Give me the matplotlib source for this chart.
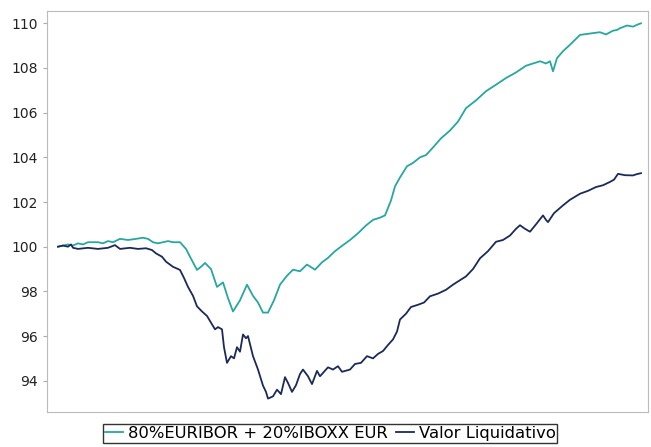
import matplotlib
matplotlib.use("Agg")
import matplotlib.pyplot as plt

# benchmark (teal) - day index, value
bench_days = [0, 5, 10, 15, 20, 25, 30, 40, 45, 50, 55, 62, 70, 78, 85, 90, 95, 100, 105, 110,
              115, 122, 128, 132, 139, 143, 147, 153, 159, 165, 170, 175, 182, 189, 195, 200,
              205, 210, 216, 222, 229, 235, 242, 249, 257, 264, 270, 277, 285, 292, 300, 308,
              315, 322, 327, 333, 337, 342, 349, 355, 362, 368, 375, 383, 392, 400, 408, 418,
              428, 438, 448, 458, 468, 475, 482, 488, 492, 495, 499, 505, 512, 522, 535, 542,
              548, 555, 559, 562, 569, 575, 580, 583]
bench_vals = [100.0, 100.05, 100.1, 100.05, 100.15, 100.1, 100.2, 100.2, 100.15, 100.25, 100.2,
              100.35, 100.3, 100.35, 100.4, 100.35, 100.2, 100.15, 100.2, 100.25, 100.2, 100.2,
              99.9, 99.55, 98.96, 99.1, 99.27, 99.0, 98.2, 98.4, 97.7, 97.1, 97.6, 98.3, 97.8,
              97.5, 97.05, 97.05, 97.6, 98.3, 98.7, 98.97, 98.9, 99.2, 98.97, 99.3, 99.5, 99.8,
              100.07, 100.3, 100.6, 100.95, 101.2, 101.3, 101.4, 102.07, 102.7, 103.1, 103.6,
              103.75, 104.0, 104.1, 104.44, 104.85, 105.2, 105.6, 106.2, 106.55, 106.96, 107.25,
              107.55, 107.8, 108.1, 108.2, 108.3, 108.2, 108.3, 107.85, 108.44, 108.75, 109.04,
              109.48, 109.56, 109.6, 109.5, 109.67, 109.7, 109.78, 109.9, 109.85, 109.95, 110.0]

# fund (navy)
fund_days = [0, 5, 10, 13, 15, 20, 30, 40, 50, 57, 62, 72, 80, 88, 94, 98, 104, 108, 115, 122,
             126, 130, 135, 139, 144, 149, 153, 157, 160, 164, 166, 169, 173, 176, 179, 182,
             185, 188, 190, 195, 200, 205, 208, 210, 215, 219, 223, 227, 230, 234, 238, 242,
             245, 250, 254, 259, 262, 266, 270, 275, 280, 284, 292, 297, 303, 309, 315, 320,
             325, 330, 335, 339, 342, 348, 353, 360, 366, 372, 380, 388, 395, 402, 408, 415,
             422, 430, 438, 445, 452, 458, 462, 467, 472, 478, 485, 488, 490, 496, 505, 512,
             522, 530, 538, 545, 552, 556, 560, 567, 575, 579, 583]
fund_vals = [100.0, 100.05, 100.0, 100.1, 99.95, 99.9, 99.95, 99.9, 99.95, 100.07, 99.9, 99.95,
             99.9, 99.93, 99.85, 99.7, 99.55, 99.33, 99.1, 98.96, 98.6, 98.2, 97.8, 97.33, 97.1,
             96.9, 96.6, 96.3, 96.4, 96.3, 95.5, 94.8, 95.1, 95.0, 95.5, 95.3, 96.07, 95.9, 96.0,
             95.1, 94.5, 93.78, 93.5, 93.2, 93.3, 93.6, 93.4, 94.16, 93.9, 93.5, 93.8, 94.3,
             94.5, 94.2, 93.85, 94.44, 94.2, 94.4, 94.6, 94.5, 94.65, 94.4, 94.5, 94.75, 94.8,
             95.1, 95.0, 95.2, 95.33, 95.6, 95.85, 96.2, 96.74, 97.0, 97.3, 97.4, 97.5, 97.78,
             97.9, 98.07, 98.3, 98.5, 98.67, 99.0, 99.48, 99.8, 100.22, 100.3, 100.5, 100.8,
             100.96, 100.8, 100.67, 101.0, 101.4, 101.2, 101.1, 101.5, 101.85, 102.1, 102.37,
             102.5, 102.67, 102.75, 102.9, 103.0, 103.26, 103.2, 103.19, 103.25, 103.29]

bench_label = "80%EURIBOR + 20%IBOXX EUR"
fund_label = "Valor Liquidativo"
yticks = [94, 96, 98, 100, 102, 104, 106, 108, 110]

fig = plt.figure(figsize=(6.51, 4.47), dpi=100)
ax = fig.add_axes([47 / 651, 35 / 447, 601 / 651, 401 / 447])

ax.plot(bench_days, bench_vals, color="#27a79d", lw=1.3, label=bench_label)
ax.plot(fund_days, fund_vals, color="#1b2a57", lw=1.3, label=fund_label)

ax.set_xlim(-11, 590)
ax.set_ylim(92.6, 110.55)
ax.set_yticks(yticks)
ax.set_xticks([])
ax.tick_params(axis="y", labelsize=10, length=3, color="#aaaaaa", labelcolor="#222222")
for s in ax.spines.values():
    s.set_color("#bbbbbb")

leg = fig.legend(loc="upper center", bbox_to_anchor=(330 / 651, 23 / 447), ncol=2,
                 fontsize=11.8, frameon=True, fancybox=False, edgecolor="black",
                 handlelength=1.1, handletextpad=0.3, columnspacing=0.5,
                 borderpad=0.12, borderaxespad=0)
leg.get_frame().set_linewidth(1.0)
for h in leg.get_lines():
    h.set_linewidth(1.3)

fig.savefig("out.png", dpi=100)
